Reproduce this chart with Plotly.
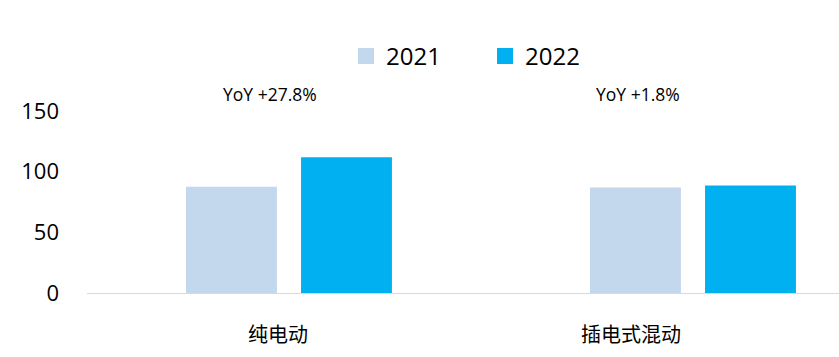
import plotly.graph_objects as go

categories = ['纯电动', '插电式混动']
series_names = ['2021', '2022']
values_2021 = [87.5, 86.9]
values_2022 = [111.8, 88.5]
yoy_labels = ['YoY +27.8%', 'YoY +1.8%']
y_ticks = [0, 50, 100, 150]

colors = ['#C3D8ED', '#00B0F0']
FONT = 'Open Sans, Noto Sans CJK SC, sans-serif'

fig = go.Figure()
x_idx = list(range(len(categories)))
for name, vals, col, off in zip(series_names, [values_2021, values_2022], colors, [-0.2537, 0.031]):
    fig.add_trace(go.Bar(
        x=x_idx, y=vals, name=name, width=0.225, offset=off,
        marker=dict(color=col, line=dict(width=0)), showlegend=False,
    ))
    fig.add_trace(go.Scatter(
        x=[None], y=[None], mode='markers', name=name,
        marker=dict(symbol='square', size=16, color=col), showlegend=True,
    ))

annotations = []
for i, (lab, dx) in enumerate(zip(yoy_labels, [-19, -55])):
    annotations.append(dict(x=i, xref='x', y=1.094, yref='paper', text=lab, showarrow=False,
                            xshift=dx, yanchor='middle', font=dict(size=17.5, color='#000000', family=FONT)))
for i, (lab, dx) in enumerate(zip(categories, [-11, -62])):
    annotations.append(dict(x=i, xref='x', y=-0.2225, yref='paper', text=lab, showarrow=False,
                            xshift=dx, yanchor='middle', font=dict(size=20, color='#000000', family='Noto Sans CJK SC')))

fig.update_layout(
    width=839, height=357,
    margin=dict(l=87, r=0, t=111, b=64, pad=0),
    paper_bgcolor='white', plot_bgcolor='white',
    barmode='overlay',
    font=dict(family=FONT, color='#000000'),
    xaxis=dict(range=[-0.4988, 1.3626], showticklabels=False, showgrid=False, zeroline=False,
               showline=True, linecolor='#D9D9D9', linewidth=1, ticks=''),
    yaxis=dict(range=[0, 150], tickvals=y_ticks, showgrid=False, zeroline=False, showline=False,
               ticks='', ticklabelstandoff=27, tickfont=dict(size=22, color='#000000', family=FONT)),
    legend=dict(orientation='h', x=0.3444, xanchor='left', y=1.3, yanchor='middle',
                font=dict(size=24, color='#000000', family=FONT), entrywidth=94, entrywidthmode='pixels',
                itemsizing='trace', bgcolor='rgba(0,0,0,0)'),
    annotations=annotations,
)

fig.write_html('out.html')
